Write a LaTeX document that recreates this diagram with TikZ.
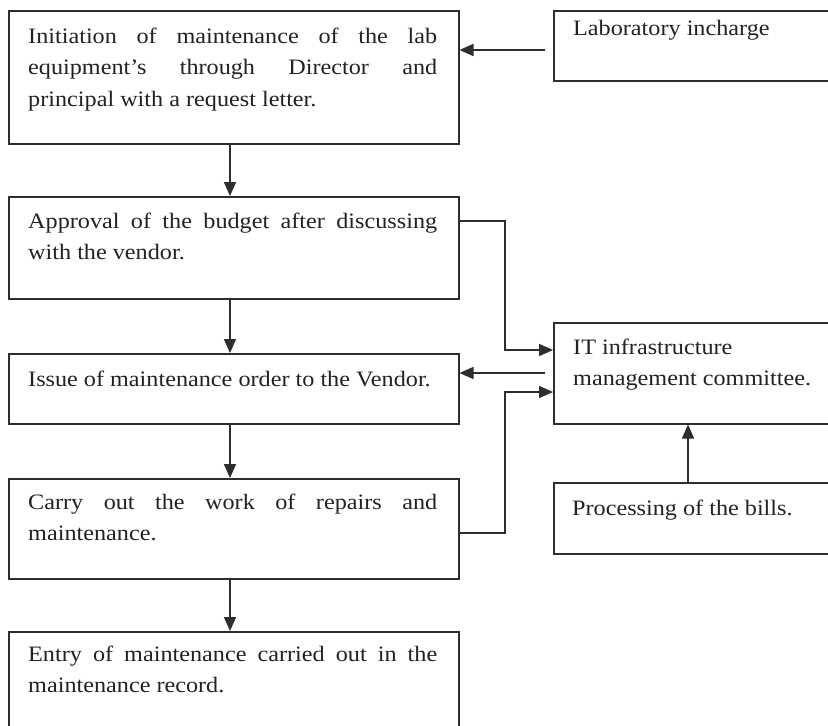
\documentclass[tikz,border=0pt]{standalone}
\usepackage{fontspec}
\setmainfont{Liberation Serif}[FakeStretch=1.1]
\usetikzlibrary{arrows.meta}
\definecolor{ink}{HTML}{2E2E2E}
\definecolor{txtc}{HTML}{222222}
% a line of justified text spread across the full text width
\newcommand{\fullline}[1]{\makebox[\linewidth][s]{#1}}
% block of text whose baseline is the baseline of its first line
\newcommand{\boxtext}[1]{\parbox[t]{409pt}{#1}}
\begin{document}
\begin{tikzpicture}[x=1pt,y=-1pt,
  flowbox/.style={draw=ink, line width=1.5pt, rectangle, inner sep=0pt, anchor=north west},
  boxlabel/.style={anchor=base west, inner sep=0pt, text=txtc, font=\fontsize{22pt}{31.5pt}\selectfont},
  arr/.style={draw=ink, line width=1.5pt, -{Triangle[length=14pt,width=12pt]}},
  ]
\clip (0,0) rectangle (828,726);
\fill[white] (0,0) rectangle (828,726);

% left column of process steps
\node[flowbox, minimum width=450pt, minimum height=133pt] (b1) at (8,10) {};
\node[flowbox, minimum width=450pt, minimum height=102pt] (b2) at (8,196) {};
\node[flowbox, minimum width=450pt, minimum height=70pt]  (b3) at (8,353) {};
\node[flowbox, minimum width=450pt, minimum height=100pt] (b4) at (8,478) {};
\node[flowbox, minimum width=450pt, minimum height=110pt] (b5) at (8,631) {};

% right column
\node[flowbox, minimum width=288pt, minimum height=70pt]  (lab)  at (553,10) {};
\node[flowbox, minimum width=288pt, minimum height=101pt] (it)   at (553,322) {};
\node[flowbox, minimum width=288pt, minimum height=71pt]  (proc) at (553,482) {};

% texts
\node[boxlabel] (t1) at ([shift={(20,33)}]b1.north west) {\boxtext{%
  \fullline{Initiation of maintenance of the lab}\\
  \fullline{equipment’s through Director and}\\
  principal with a request letter.}};
\node[boxlabel] (t2) at ([shift={(20,32)}]b2.north west) {\boxtext{%
  \fullline{Approval of the budget after discussing}\\
  with the vendor.}};
\node[boxlabel] (t3) at ([shift={(20,33)}]b3.north west) {\boxtext{%
  Issue of maintenance order to the Vendor.}};
\node[boxlabel] (t4) at ([shift={(20,31)}]b4.north west) {\boxtext{%
  \fullline{Carry out the work of repairs and}\\
  maintenance.}};
\node[boxlabel] (t5) at ([shift={(20,30)}]b5.north west) {\boxtext{%
  \fullline{Entry of maintenance carried out in the}\\
  maintenance record.}};
\node[boxlabel] (tl) at ([shift={(20,25)}]lab.north west) {Laboratory incharge};
\node[boxlabel] (ti) at ([shift={(20,32)}]it.north west) {\boxtext{%
  IT infrastructure\\
  management committee.}};
\node[boxlabel] (tp) at ([shift={(19,33)}]proc.north west) {Processing of the bills.};

% vertical spine of the main flow and the junction column
\coordinate (spine) at (230,0);
\coordinate (jx) at (505,0);

% main flow
\draw[arr] (b1.south -| spine) -- (b2.north -| spine);
\draw[arr] (b2.south -| spine) -- (b3.north -| spine);
\draw[arr] (b3.south -| spine) -- (b4.north -| spine);
\draw[arr] (b4.south -| spine) -- (b5.north -| spine);

% side connectors
\draw[arr, shorten <=8pt] (lab.west |- 0,50) -- (b1.east |- 0,50);
\draw[arr] (b2.east |- 0,221) -| (jx |- 0,350) -- (it.west |- 0,350);
\draw[arr, shorten <=8pt] (it.west |- 0,373) -- (b3.east |- 0,373);
\draw[arr] (b4.east |- 0,533) -| (jx |- 0,392) -- (it.west |- 0,392);
\draw[arr] (proc.north -| 688,0) -- (it.south -| 688,0);
\end{tikzpicture}
\end{document}
